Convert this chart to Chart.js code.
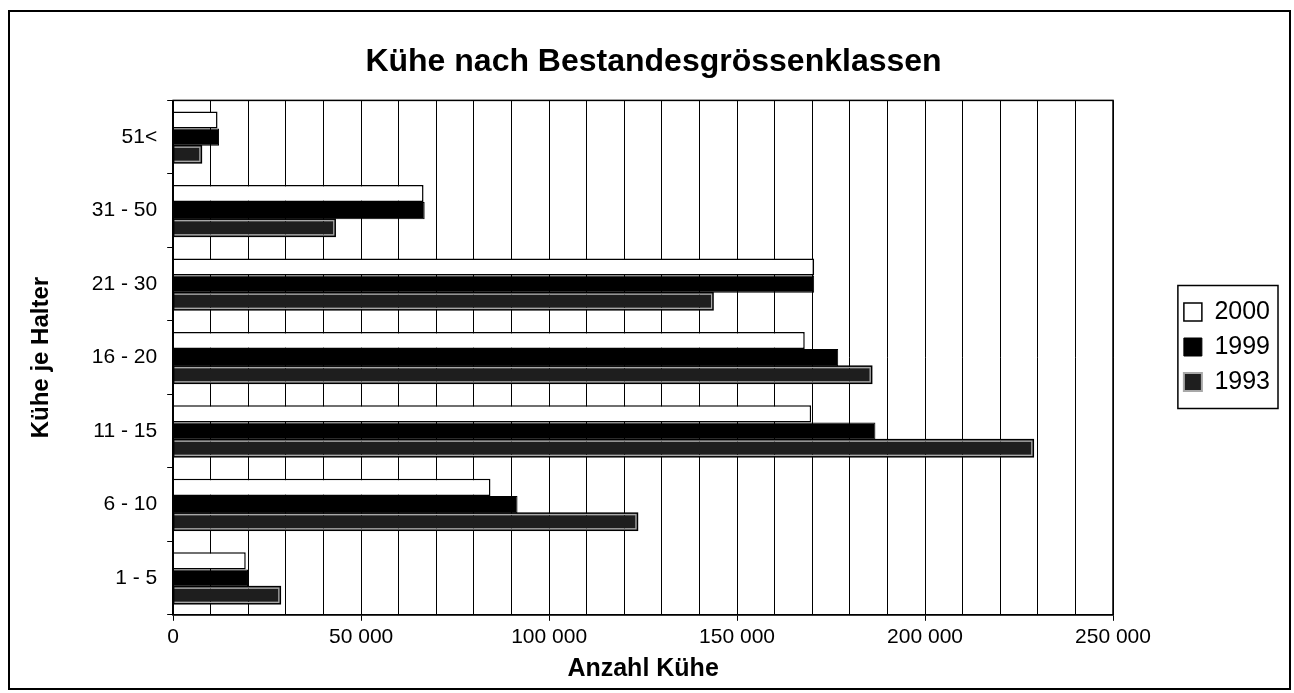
<!DOCTYPE html>
<html>
<head>
<meta charset="utf-8">
<script src="https://cdn.jsdelivr.net/npm/chart.js@4/dist/chart.umd.min.js"></script>
<style>
  html, body { margin: 0; padding: 0; background: #fff; }
  #wrap { width: 1294px; height: 693px; }
</style>
</head>
<body>
<div id="wrap"><canvas id="myChart" width="1294" height="693"></canvas></div>
<script>
// categories top to bottom
const classes = ['51<', '31 - 50', '21 - 30', '16 - 20', '11 - 15', '6 - 10', '1 - 5'];
const cows2000 = [11800, 66600, 170500, 168000, 169700, 84400, 19300];
const cows1999 = [12200, 66900, 170500, 176900, 186800, 91600, 19900];
const cows1993 = [7500, 43100, 143600, 185800, 228800, 123500, 28500];
const xMax = 250000;
const xStep = 10000;

const fontFam = "Arial, 'Liberation Sans', sans-serif";

function fmt(v) {
    return String(v).replace(/\B(?=(\d{3})+(?!\d))/g, ' ');
}

// frame round the whole picture, frame round the plot, box round the legend,
// black outline on the 1993 bars
const frames = {
    id: 'frames',
    afterLayout(chart) {
        // push the legend out to the right edge, away from the plot
        const lg = chart.legend;
        const dx = 1280 - lg.right;
        lg.left += dx;
        lg.right += dx;
    },
    afterDatasetsDraw(chart) {
        const ctx = chart.ctx;
        const meta = chart.getDatasetMeta(2);
        ctx.save();
        ctx.strokeStyle = '#000';
        ctx.lineWidth = 1.5;
        meta.data.forEach(bar => {
            const p = bar.getProps(['x', 'y', 'base', 'height'], true);
            ctx.strokeRect(p.base, p.y - p.height / 2, p.x - p.base, p.height);
        });
        ctx.restore();
    },
    afterDraw(chart) {
        const ctx = chart.ctx;
        const a = chart.chartArea;
        ctx.save();
        ctx.strokeStyle = '#000';
        ctx.lineWidth = 1.5;
        ctx.strokeRect(a.left, a.top, a.right - a.left, a.bottom - a.top);
        ctx.lineWidth = 2;
        ctx.strokeRect(9, 11, 1281, 678);
        // legend box
        const hb = chart.legend.legendHitBoxes;
        if (hb && hb.length) {
            let l = Infinity, t = Infinity, r = -Infinity, b = -Infinity;
            hb.forEach(h => {
                l = Math.min(l, h.left);
                t = Math.min(t, h.top);
                r = Math.max(r, h.left + h.width);
                b = Math.max(b, h.top + h.height);
            });
            ctx.lineWidth = 1.5;
            ctx.strokeRect(l - 6, t - 14, r - l + 14, b - t + 28);
        }
        ctx.restore();
    }
};

new Chart(document.getElementById('myChart').getContext('2d'), {
    type: 'bar',
    data: {
        labels: classes,
        datasets: [
            {
                label: '2000',
                data: cows2000,
                backgroundColor: '#ffffff',
                borderColor: '#000000',
                borderWidth: 1.5
            },
            {
                label: '1999',
                data: cows1999,
                backgroundColor: '#000000',
                borderColor: '#000000',
                borderWidth: 1
            },
            {
                label: '1993',
                data: cows1993,
                backgroundColor: '#1e1e1e',
                borderColor: '#a8a8a8',
                borderWidth: 2
            }
        ]
    },
    options: {
        indexAxis: 'y',
        responsive: false,
        animation: false,
        devicePixelRatio: 1,
        layout: { padding: { left: 27, top: 10, right: 14, bottom: 9 } },
        datasets: {
            bar: { categoryPercentage: 0.7, barPercentage: 1.0 }
        },
        plugins: {
            title: {
                display: true,
                text: 'Kühe nach Bestandesgrössenklassen',
                color: '#000',
                font: { family: fontFam, size: 32, weight: 'bold' },
                padding: { top: 33, bottom: 19 }
            },
            legend: {
                position: 'right',
                labels: {
                    color: '#000',
                    font: { family: fontFam, size: 25 },
                    boxWidth: 18,
                    boxHeight: 18,
                    padding: 10
                }
            },
            tooltip: { enabled: false }
        },
        scales: {
            x: {
                min: 0,
                max: xMax,
                afterFit: s => { s.paddingRight = 181; },
                ticks: {
                    stepSize: xStep,
                    autoSkip: false,
                    maxRotation: 0,
                    color: '#000',
                    padding: 4,
                    font: { family: fontFam, size: 21 },
                    callback: v => (v % 50000 === 0 ? fmt(v) : '')
                },
                grid: {
                    color: '#000',
                    lineWidth: 1,
                    tickLength: 6,
                    tickColor: c => (c.tick && c.tick.value % 50000 === 0 ? '#000' : 'rgba(0,0,0,0)')
                },
                border: { color: '#000', width: 1.5 },
                title: {
                    display: true,
                    text: 'Anzahl Kühe',
                    color: '#000',
                    font: { family: fontFam, size: 25, weight: 'bold' },
                    padding: { top: 0, bottom: 0 }
                }
            },
            y: {
                ticks: {
                    color: '#000',
                    padding: 10,
                    font: { family: fontFam, size: 21 }
                },
                grid: {
                    drawOnChartArea: false,
                    tickLength: 6,
                    color: '#000'
                },
                border: { color: '#000', width: 1.5 },
                title: {
                    display: true,
                    text: 'Kühe je Halter',
                    color: '#000',
                    font: { family: fontFam, size: 24, weight: 'bold' },
                    padding: { top: 0, bottom: 26 }
                }
            }
        }
    },
    plugins: [frames]
});
</script>
</body>
</html>
